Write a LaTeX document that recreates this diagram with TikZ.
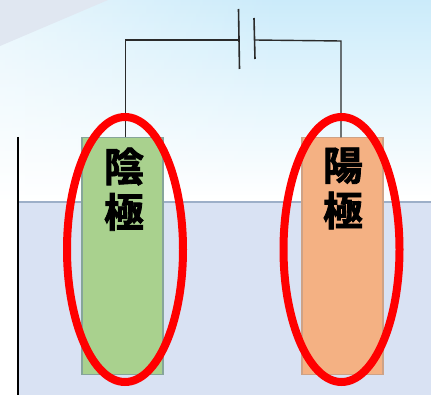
\documentclass[tikz,border=0pt]{standalone}
\usepackage{fontspec}
\newfontfamily\cjk[FakeBold=2]{Noto Sans CJK JP Bold}
\definecolor{skytop}{HTML}{CBEBFA}
\definecolor{skymid}{HTML}{E6F6FD}
\definecolor{facet}{HTML}{E0E7F1}
\definecolor{bath}{HTML}{D9E2F3}
\definecolor{bathedge}{HTML}{9DAFC8}
\definecolor{cathode}{HTML}{A9D18E}
\definecolor{cathodeedge}{HTML}{86A59A}
\definecolor{anode}{HTML}{F4B183}
\definecolor{anodeedge}{HTML}{CFA285}
\definecolor{wire}{HTML}{2A2A2A}
\definecolor{ringred}{HTML}{FF0000}
\usetikzlibrary{shapes.geometric,fadings}
\tikzset{
  electrode/.style={draw=#1, line width=1.3pt, minimum width=81pt, minimum height=237pt, inner sep=0pt, outer sep=0pt, anchor=north west},
  ring/.style={draw=ringred, line width=8pt, ellipse, minimum width=116pt, minimum height=265pt, inner sep=0pt, outer sep=0pt},
  wireline/.style={draw=wire, line width=1.4pt},
  plate/.style={draw=wire, line width=1.6pt},
  label/.style={font=\cjk\fontsize{40}{45.5}\selectfont, align=center, text=black, inner sep=0pt, anchor=north}
}
\begin{document}
\begin{tikzpicture}[x=1pt,y=-1pt]
\useasboundingbox (0,0) rectangle (431,395);
% background
\shade[top color=skytop, bottom color=white, middle color=skymid] (0,0) rectangle (431,200);
\fill[white] (0,200) rectangle (431,395);
\fill[white, opacity=.55, path fading=east] (0,0) rectangle (280,200);
\fill[facet] (0,0) -- (108,0) -- (0,46) -- cycle;
% bath
\fill[bath] (18,202) rectangle (431,395);
\draw[bathedge, line width=1.2pt] (18,202) -- (431,202);
\coordinate (wallTop) at (18,137);
\coordinate (wallBot) at (18,395);
\draw[black, line width=1.3pt] (wallTop) -- (wallBot);
% electrodes
\node[electrode=cathodeedge, fill=cathode] (cathodeBox) at (82,137.5) {};
\node[electrode=anodeedge, fill=anode] (anodeBox) at (302,137.5) {};
% battery plates
\coordinate (p1t) at (238.5,9);
\coordinate (p1b) at (239.5,69);
\coordinate (p1m) at (238.7,40);
\coordinate (p2t) at (254,18);
\coordinate (p2b) at (255,59);
\coordinate (p2m) at (254.4,40);
\draw[plate] (p1t) -- (p1b);
\draw[plate] (p2t) -- (p2b);
% wires
\coordinate (cornerL) at (125.3,40);
\coordinate (cornerR) at (341,41);
\draw[wireline] (cathodeBox.north -| cornerL) -- (cornerL) -- (p1m);
\draw[wireline] (anodeBox.north -| cornerR) -- (cornerR) -- (p2m);
% labels
\node[label] (cathodeText) at (124,147.5) {陰\\極};
\node[label] (anodeText) at (343,147.5) {陽\\極};
% rings
\node[ring] (ringL) at (125,249.5) {};
\node[ring] (ringR) at (341.5,249.5) {};
\end{tikzpicture}
\end{document}
